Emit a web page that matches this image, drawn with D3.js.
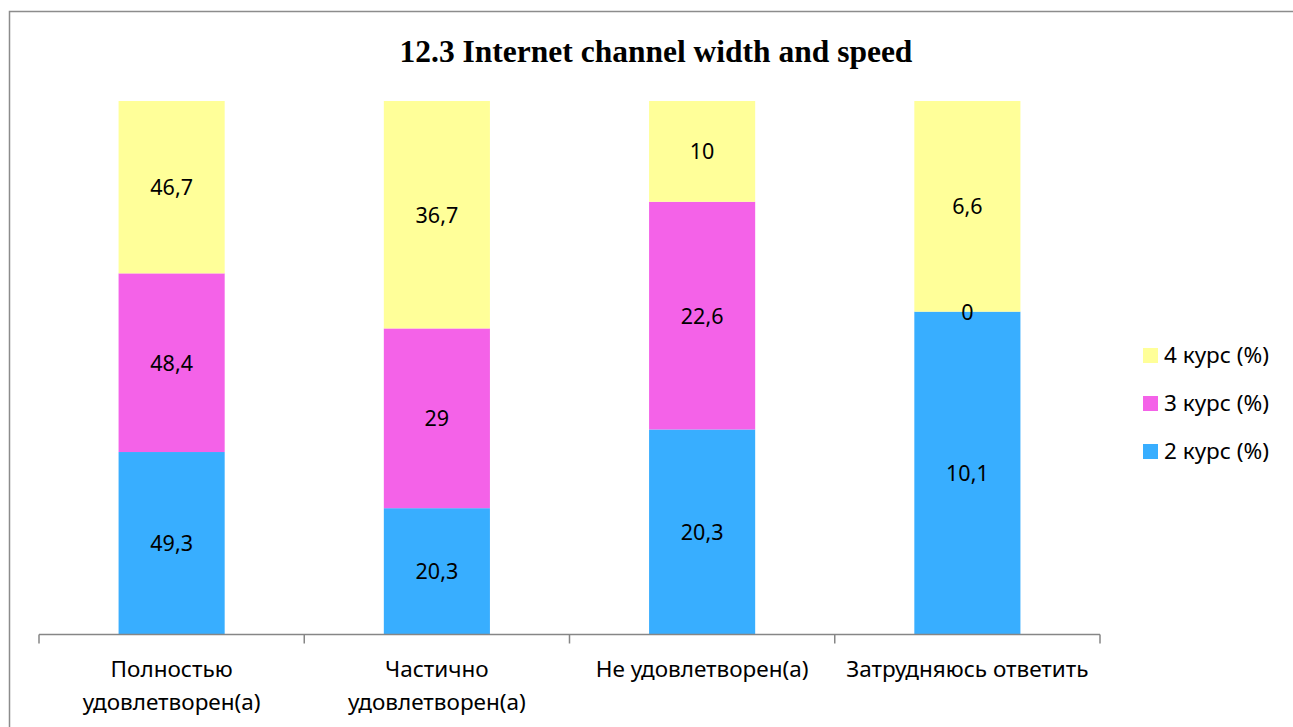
<!DOCTYPE html>
<html>
<head>
<meta charset="utf-8">
<script src="https://cdn.jsdelivr.net/npm/d3@7"></script>
<style>
  body { margin: 0; background: #fff; }
  svg { display: block; }
</style>
</head>
<body>
<div id="chart"></div>
<script>
// Chart data
const categories = [
    ["Полностью", "удовлетворен(а)"],
    ["Частично", "удовлетворен(а)"],
    ["Не удовлетворен(а)"],
    ["Затрудняюсь ответить"]
];
const seriesNames = ["2 курс (%)", "3 курс (%)", "4 курс (%)"];
const course2 = [49.3, 20.3, 20.3, 10.1];
const course3 = [48.4, 29, 22.6, 0];
const course4 = [46.7, 36.7, 10, 6.6];
const colors = ["#38AEFF", "#F462E8", "#FFFF99"];
const title = "12.3 Internet channel width and speed";

const width = 1293, height = 727;
const margin = { top: 101, right: 193, bottom: 93, left: 39 };

const svg = d3.select("#chart")
    .append("svg")
    .attr("width", width)
    .attr("height", height);

// Outer frame
svg.append("rect")
    .attr("x", 9.5)
    .attr("y", 11.5)
    .attr("width", width)
    .attr("height", height)
    .attr("fill", "none")
    .attr("stroke", "#8c8c8c")
    .attr("stroke-width", 1.5);

svg.append("text")
    .attr("x", 656)
    .attr("y", 62)
    .attr("text-anchor", "middle")
    .style("font-family", "'Liberation Serif', 'Times New Roman', serif")
    .style("font-weight", "bold")
    .style("font-size", "31.5px")
    .text(title);

const idx = d3.range(categories.length);
const xScale = d3.scaleBand()
    .domain(idx)
    .range([margin.left, width - margin.right])
    .padding(0);

const yScale = d3.scaleLinear()
    .domain([0, 100])
    .range([height - margin.bottom, margin.top]);

// Build stacked percentage data
const rows = idx.map(i => {
    const vals = [course2[i], course3[i], course4[i]];
    const total = d3.sum(vals);
    const row = { i };
    seriesNames.forEach((s, k) => { row[s] = vals[k] / total * 100; row[s + "_raw"] = vals[k]; });
    return row;
});
const stacked = d3.stack().keys(seriesNames)(rows);

const barWidth = xScale.bandwidth() * 0.4;
const font = "'Noto Sans', 'Open Sans', sans-serif";
const fontSize = "22.5px";

const groups = svg.selectAll("g.series")
    .data(stacked)
    .enter()
    .append("g")
    .attr("class", "series")
    .attr("fill", (d, k) => colors[k]);

groups.selectAll("rect")
    .data(d => d)
    .enter()
    .append("rect")
    .attr("x", d => xScale(d.data.i) + (xScale.bandwidth() - barWidth) / 2)
    .attr("y", d => yScale(d[1]))
    .attr("width", barWidth)
    .attr("height", d => yScale(d[0]) - yScale(d[1]));

// Data labels
stacked.forEach(layer => {
    svg.append("g")
        .selectAll("text")
        .data(layer)
        .enter()
        .append("text")
        .attr("x", d => xScale(d.data.i) + xScale.bandwidth() / 2)
        .attr("y", d => (yScale(d[0]) + yScale(d[1])) / 2 + 8)
        .attr("text-anchor", "middle")
        .style("font-family", font)
        .style("font-size", "21.5px")
        .style("fill", "#000")
        .text(d => String(d.data[layer.key + "_raw"]).replace(".", ","));
});

// X axis: line with ticks at band edges
const axisY = height - margin.bottom + 0.5;
const axis = svg.append("g").attr("stroke", "#868686").attr("stroke-width", 1.5);
axis.append("line")
    .attr("x1", xScale.range()[0]).attr("x2", xScale.range()[1])
    .attr("y1", axisY).attr("y2", axisY);
idx.concat([categories.length]).forEach(i => {
    const x = i < categories.length ? xScale(i) : xScale.range()[1];
    axis.append("line")
        .attr("x1", x).attr("x2", x)
        .attr("y1", axisY).attr("y2", axisY + 9);
});

// Category labels
svg.append("g")
    .selectAll("text")
    .data(categories)
    .enter()
    .append("text")
    .attr("text-anchor", "middle")
    .attr("x", (d, i) => xScale(i) + xScale.bandwidth() / 2)
    .attr("y", 677)
    .style("font-family", font)
    .style("font-size", fontSize)
    .style("fill", "#000")
    .each(function (lines) {
        const t = d3.select(this);
        const x = t.attr("x");
        lines.forEach((l, k) => {
            t.append("tspan").attr("x", x).attr("dy", k === 0 ? 0 : 33).text(l);
        });
    });

// Legend (reverse order, top = 4 курс)
const legendItems = seriesNames.map((s, k) => ({ name: s, color: colors[k] })).reverse();
const legend = svg.append("g")
    .selectAll("g")
    .data(legendItems)
    .enter()
    .append("g")
    .attr("transform", (d, k) => `translate(1143, ${348 + k * 48})`);
legend.append("rect")
    .attr("width", 15)
    .attr("height", 15)
    .attr("fill", d => d.color);
legend.append("text")
    .attr("x", 21)
    .attr("y", 15)
    .style("font-family", font)
    .style("font-size", fontSize)
    .style("fill", "#000")
    .text(d => d.name);
</script>
</body>
</html>
